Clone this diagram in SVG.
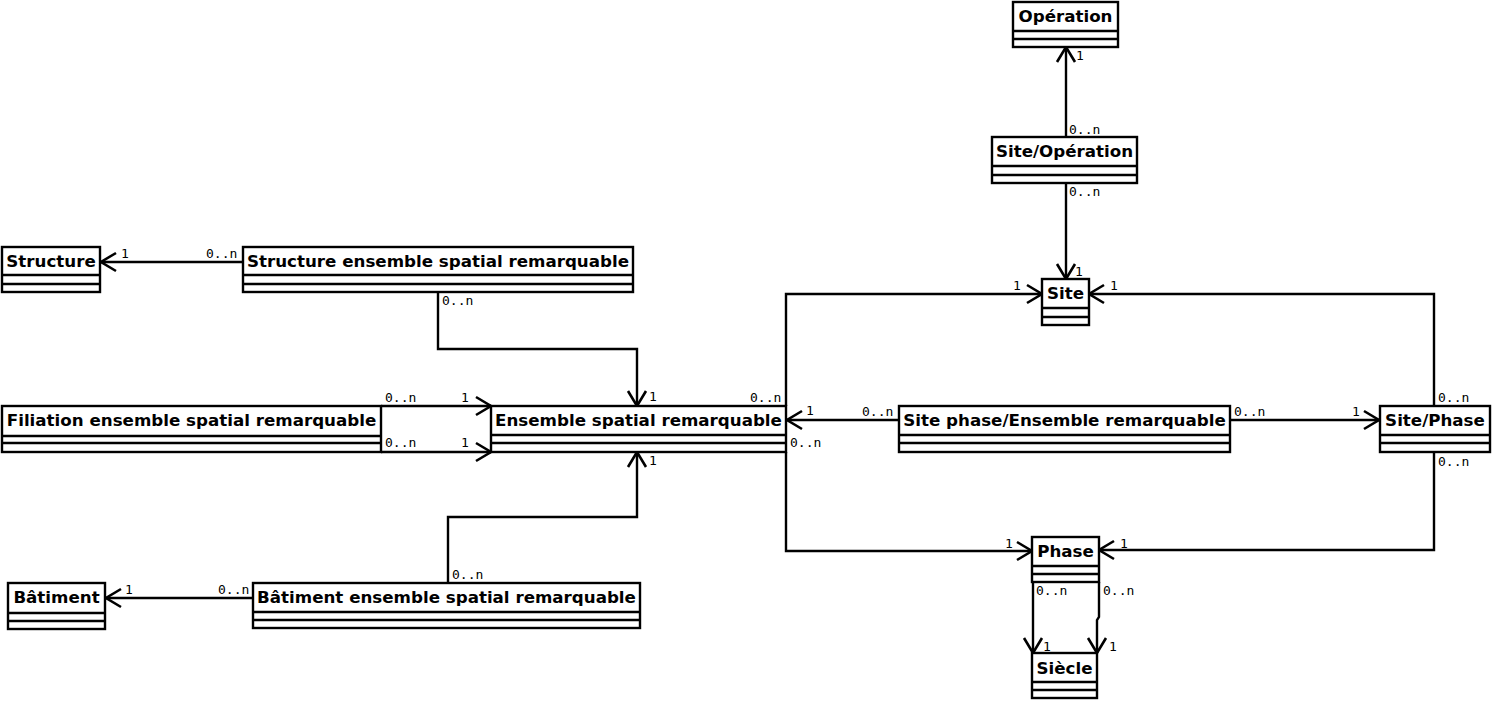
<svg xmlns="http://www.w3.org/2000/svg" width="1492" height="702" viewBox="0 0 1492 702">
<style>
.box{fill:#fff;stroke:#000;stroke-width:2.4}
.sep{stroke:#000;stroke-width:2.4}
.t{font-family:"DejaVu Sans",sans-serif;font-weight:bold;font-size:16.7px;text-anchor:middle;fill:#000}
.m{font-family:"DejaVu Sans Mono",monospace;font-size:13px;fill:#000}
.c{fill:none;stroke:#000;stroke-width:2.4;marker-end:url(#arr)}
</style>
<defs>
<marker id="arr" markerUnits="userSpaceOnUse" viewBox="-17 -11 19 22" markerWidth="19" markerHeight="22" refX="0" refY="0" orient="auto" overflow="visible">
<path d="M-15,-9 L0,0 L-15,9" fill="none" stroke="#000" stroke-width="2.6"/>
</marker>
</defs>
<rect width="1492" height="702" fill="#fff"/>
<g id="connectors">
<path class="c" d="M1066,137 V47"/>
<path class="c" d="M1066,183 V279"/>
<path class="c" d="M243,262 H101"/>
<path class="c" d="M438,292 V349 H637 V406"/>
<path class="c" d="M381,406 H491"/>
<path class="c" d="M381,452 H491"/>
<path class="c" d="M448,583 V517 H637 V452"/>
<path class="c" d="M253,598 H106"/>
<path class="c" d="M786,406 V294 H1042"/>
<path class="c" d="M1434,406 V294 H1089"/>
<path class="c" d="M899,420 H787"/>
<path class="c" d="M1230,420 H1379"/>
<path class="c" d="M786,452 V551 H1032"/>
<path class="c" d="M1434,452 V550 H1099"/>
<path class="c" d="M1033,582 V653"/>
<path class="c" d="M1099,582 V617 L1097,620 V653"/>
<text class="m" x="1076" y="60">1</text>
<text class="m" x="1069" y="134">0..n</text>
<text class="m" x="1069" y="196">0..n</text>
<text class="m" x="1075" y="276">1</text>
<text class="m" x="1013" y="290">1</text>
<text class="m" x="1110" y="290">1</text>
<text class="m" x="121" y="258">1</text>
<text class="m" x="206" y="258">0..n</text>
<text class="m" x="442" y="305">0..n</text>
<text class="m" x="385" y="402">0..n</text>
<text class="m" x="461" y="402">1</text>
<text class="m" x="385" y="447">0..n</text>
<text class="m" x="461" y="447">1</text>
<text class="m" x="649" y="401">1</text>
<text class="m" x="750" y="402">0..n</text>
<text class="m" x="806" y="415">1</text>
<text class="m" x="862" y="416">0..n</text>
<text class="m" x="1234" y="416">0..n</text>
<text class="m" x="1352" y="416">1</text>
<text class="m" x="1438" y="402">0..n</text>
<text class="m" x="790" y="447">0..n</text>
<text class="m" x="649" y="465">1</text>
<text class="m" x="1438" y="466">0..n</text>
<text class="m" x="1005" y="548">1</text>
<text class="m" x="1120" y="548">1</text>
<text class="m" x="1036" y="595">0..n</text>
<text class="m" x="1103" y="595">0..n</text>
<text class="m" x="1043" y="651">1</text>
<text class="m" x="1109" y="651">1</text>
<text class="m" x="452" y="579">0..n</text>
<text class="m" x="125" y="594">1</text>
<text class="m" x="218" y="594">0..n</text>
</g>
<g id="operation">
<rect class="box" x="1013" y="2" width="105" height="45"/>
<line class="sep" x1="1013" y1="31" x2="1118" y2="31"/>
<line class="sep" x1="1013" y1="39" x2="1118" y2="39"/>
<text class="t" x="1065.5" y="22">Opération</text>
</g>
<g id="site-operation">
<rect class="box" x="992" y="137" width="145" height="46"/>
<line class="sep" x1="992" y1="166" x2="1137" y2="166"/>
<line class="sep" x1="992" y1="175" x2="1137" y2="175"/>
<text class="t" x="1064.5" y="157">Site/Opération</text>
</g>
<g id="structure">
<rect class="box" x="2" y="247" width="98" height="45"/>
<line class="sep" x1="2" y1="275" x2="100" y2="275"/>
<line class="sep" x1="2" y1="284" x2="100" y2="284"/>
<text class="t" x="51" y="267">Structure</text>
</g>
<g id="structure-esr">
<rect class="box" x="243" y="247" width="390" height="45"/>
<line class="sep" x1="243" y1="275" x2="633" y2="275"/>
<line class="sep" x1="243" y1="284" x2="633" y2="284"/>
<text class="t" x="438" y="267">Structure ensemble spatial remarquable</text>
</g>
<g id="filiation">
<rect class="box" x="2" y="406" width="379" height="46"/>
<line class="sep" x1="2" y1="436" x2="381" y2="436"/>
<line class="sep" x1="2" y1="443" x2="381" y2="443"/>
<text class="t" x="191.5" y="426">Filiation ensemble spatial remarquable</text>
</g>
<g id="ensemble">
<rect class="box" x="491" y="406" width="295" height="46"/>
<line class="sep" x1="491" y1="435" x2="786" y2="435"/>
<line class="sep" x1="491" y1="443" x2="786" y2="443"/>
<text class="t" x="638.5" y="426">Ensemble spatial remarquable</text>
</g>
<g id="site">
<rect class="box" x="1042" y="279" width="47" height="46"/>
<line class="sep" x1="1042" y1="308" x2="1089" y2="308"/>
<line class="sep" x1="1042" y1="317" x2="1089" y2="317"/>
<text class="t" x="1065.5" y="299">Site</text>
</g>
<g id="site-phase-ensemble">
<rect class="box" x="899" y="406" width="331" height="46"/>
<line class="sep" x1="899" y1="435" x2="1230" y2="435"/>
<line class="sep" x1="899" y1="443" x2="1230" y2="443"/>
<text class="t" x="1064.5" y="426">Site phase/Ensemble remarquable</text>
</g>
<g id="site-phase">
<rect class="box" x="1380" y="406" width="110" height="46"/>
<line class="sep" x1="1380" y1="435" x2="1490" y2="435"/>
<line class="sep" x1="1380" y1="443" x2="1490" y2="443"/>
<text class="t" x="1435" y="426">Site/Phase</text>
</g>
<g id="phase">
<rect class="box" x="1032" y="537" width="67" height="45"/>
<line class="sep" x1="1032" y1="566" x2="1099" y2="566"/>
<line class="sep" x1="1032" y1="574" x2="1099" y2="574"/>
<text class="t" x="1065.5" y="557">Phase</text>
</g>
<g id="siecle">
<rect class="box" x="1032" y="653" width="65" height="45"/>
<line class="sep" x1="1032" y1="682" x2="1097" y2="682"/>
<line class="sep" x1="1032" y1="690" x2="1097" y2="690"/>
<text class="t" x="1064.5" y="674">Siècle</text>
</g>
<g id="batiment-esr">
<rect class="box" x="253" y="583" width="387" height="45"/>
<line class="sep" x1="253" y1="612" x2="640" y2="612"/>
<line class="sep" x1="253" y1="620" x2="640" y2="620"/>
<text class="t" x="446.5" y="603">Bâtiment ensemble spatial remarquable</text>
</g>
<g id="batiment">
<rect class="box" x="8" y="583" width="97" height="46"/>
<line class="sep" x1="8" y1="613" x2="105" y2="613"/>
<line class="sep" x1="8" y1="621" x2="105" y2="621"/>
<text class="t" x="56.5" y="603">Bâtiment</text>
</g>
</svg>
